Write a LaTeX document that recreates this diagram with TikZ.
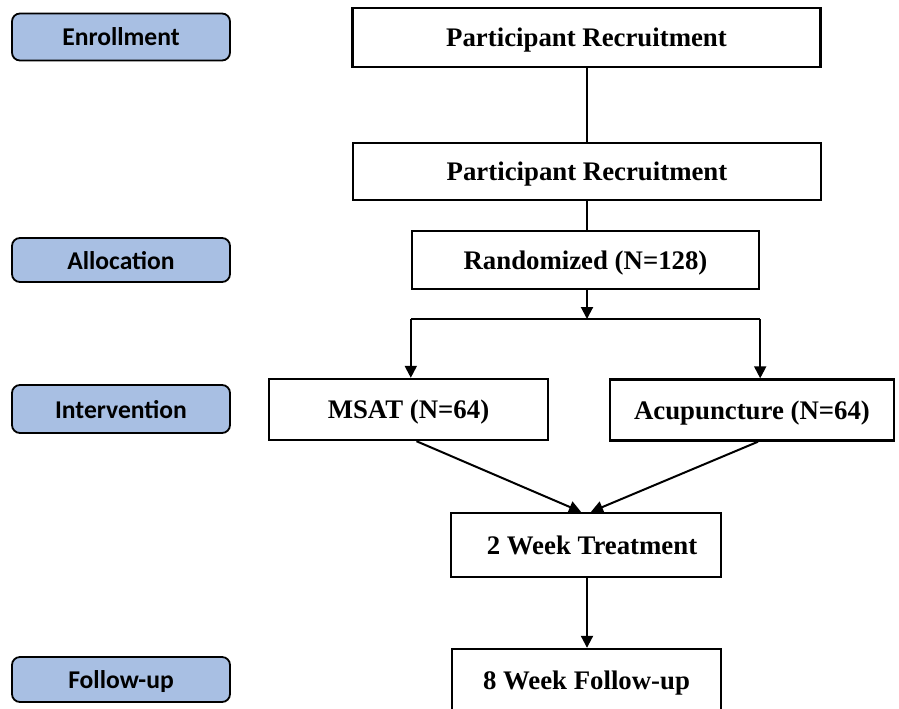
\documentclass[tikz,border=0pt]{standalone}
\usepackage{fontspec}
\setmainfont{Liberation Serif}
\newfontfamily\stagefont{Carlito}
\usetikzlibrary{arrows.meta,positioning}
\definecolor{stageblue}{RGB}{168,191,227}

\begin{document}
\begin{tikzpicture}[
  x=0.5pt, y=-0.5pt,
  stage/.style={
    draw,
    fill=stageblue,
    rounded corners=4pt,
    line width=0.9pt,
    minimum width=109pt,
    inner sep=0pt,
    text depth=0pt,
    font=\stagefont\bfseries\fontsize{12.8}{14}\selectfont
  },
  box/.style={
    draw,
    line width=1.2pt,
    inner sep=0pt,
    text depth=0pt,
    font=\bfseries\fontsize{13.4}{15}\selectfont
  },
  link/.style={
    line width=1pt
  },
  relation/.style={
    -{Triangle[length=6pt,width=6pt]},
    line width=1pt
  }
]
\useasboundingbox (0,0) rectangle (899,708);
\clip (0,0) rectangle (899,708);

% Stages
\node[stage, minimum height=23.5pt] (enr) at (121,37) {Enrollment};
\node[stage, minimum height=22pt] (alloc) at (121,260) {Allocation};
\node[stage, minimum height=24pt] (interv) at (121,409) {Intervention};
\node[stage, minimum height=22.5pt] (follow) at (121,679.5) {Follow-up};

% Nodes
\node[box, minimum width=234pt, minimum height=29.5pt] (pr1) at (586.5,37.5) {Participant Recruitment};
\node[box, minimum width=234pt, minimum height=28.5pt] (pr2) at (587,171.5) {Participant Recruitment};
\node[box, minimum width=173.5pt, minimum height=29pt] (rand) at (585.5,260) {Randomized (N=128)};
\coordinate (split) at (587,319);
\node[box, minimum width=139.5pt, minimum height=30.5pt] (msat) at (408.5,409.5) {MSAT (N=64)};
\node[box, minimum width=142pt, minimum height=30.5pt] (acu) at (752,410) {Acupuncture (N=64)};
\node[box, minimum width=135pt, minimum height=32pt] (treat) at (586,545) {\hspace*{6pt}2 Week Treatment};
\node[box, minimum width=134.5pt, minimum height=31.5pt] (fu8) at (586.5,680.5) {8 Week Follow-up};

% Relationships
\draw[link] (pr1.south -| split) -- (pr2.north -| split);
\draw[link] (pr2.south -| split) -- (rand.north -| split);
\draw[relation] (rand.south -| split) -- (split);
\draw[link] (split -| rand.west) -- (split -| rand.east);
\draw[relation] (split -| rand.west) -- (msat.north -| rand.west);
\draw[relation] (split -| rand.east) -- (acu.north -| rand.east);
\draw[relation] ([xshift=4pt]msat.south) -- ([xshift=-2.5pt]treat.north);
\draw[relation] ([xshift=3pt]acu.south) -- ([xshift=2.5pt]treat.north);
\draw[relation] (treat.south -| split) -- (fu8.north -| split);

\end{tikzpicture}
\end{document}
